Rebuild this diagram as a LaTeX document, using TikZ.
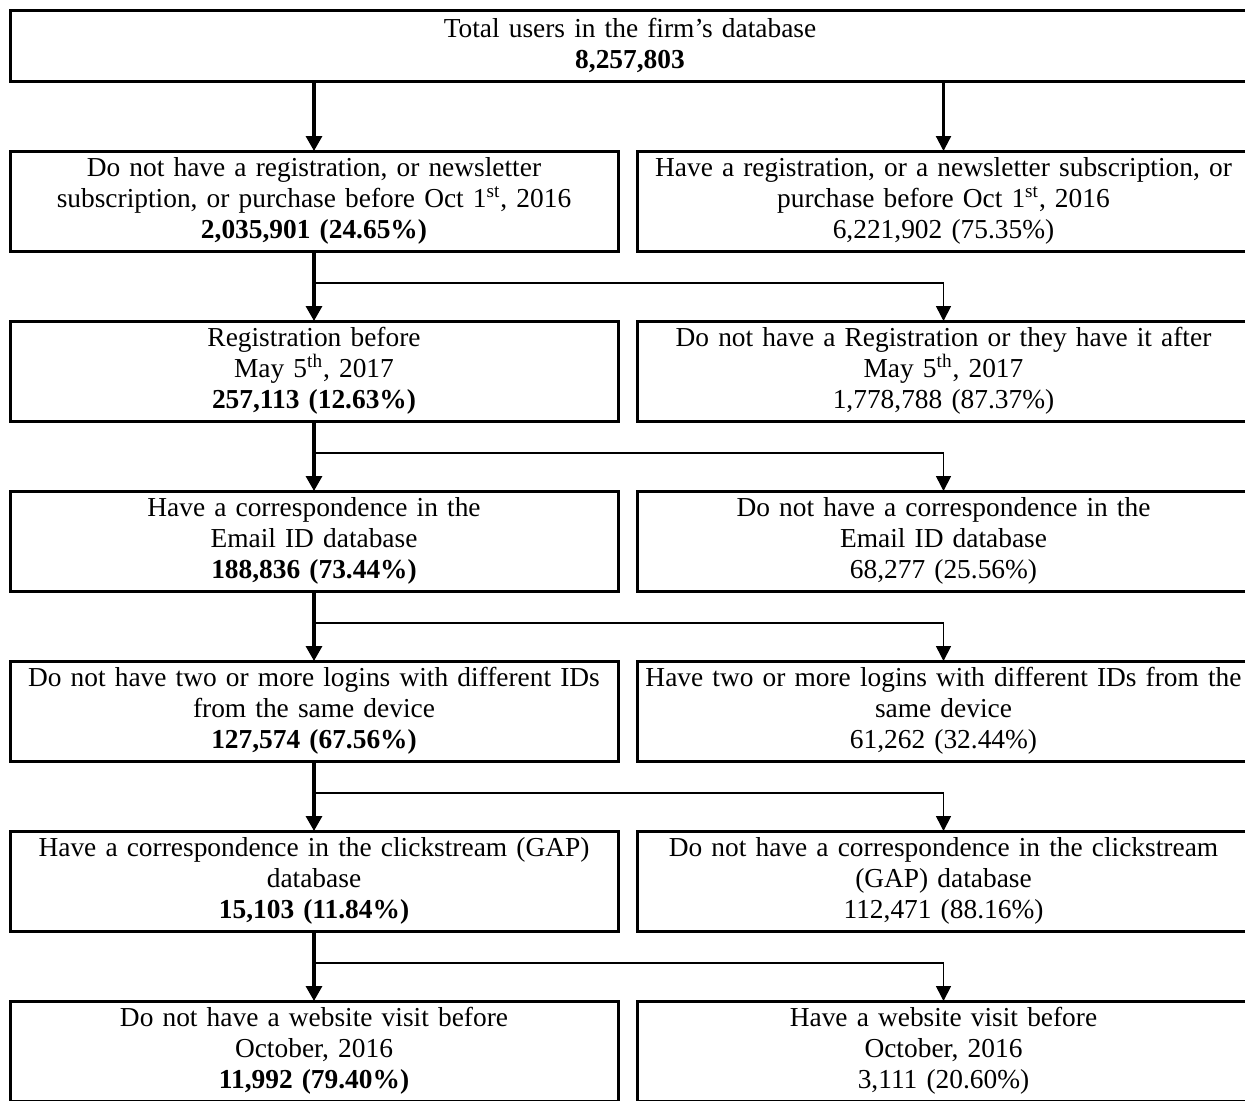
\documentclass[tikz,border=0pt]{standalone}
\usepackage{fontspec}
\setmainfont{Liberation Serif}
\usetikzlibrary{arrows.meta, positioning}

\begin{document}
\begin{tikzpicture}[
    x=0.5pt, y=-0.5pt,
    node distance=35pt and 9.5pt,
    every node/.style={font=\fontsize{13.7pt}{15.6pt}\selectfont},
    lbox/.style={rectangle, draw, line width=1.5pt, outer sep=0pt,
        minimum width=304pt, minimum height=50pt, text width=300pt,
        inner xsep=2pt, inner ysep=2pt, align=center},
    rbox/.style={lbox, minimum width=306.5pt},
    topbox/.style={lbox, minimum width=620pt, minimum height=35.5pt,
        text width=600pt},
    flow/.style={-{Triangle[length=7.5pt, width=8pt]}, line width=1.6pt},
    side/.style={-{Triangle[length=7.5pt, width=7.5pt]}, line width=0.8pt},
]
\useasboundingbox (0,0) rectangle (1245,1100);

\node[topbox] (total) at (630,45.5)
    {Total users in the firm's database\\
     \textbf{8,257,803}};

\node[lbox] (noreg) at (314,201)
    {Do not have a registration, or newsletter\\
     subscription, or purchase before Oct 1\textsuperscript{st}, 2016\\
     \textbf{2,035,901 (24.65\%)}};
\node[rbox, right=of noreg] (hasreg)
    {Have a registration, or a newsletter subscription, or\\
     purchase before Oct 1\textsuperscript{st}, 2016\\
     6,221,902 (75.35\%)};

\node[lbox, below=of noreg] (regmay)
    {Registration before\\
     May 5\textsuperscript{th}, 2017\\
     \textbf{257,113 (12.63\%)}};
\node[rbox, right=of regmay] (noregmay)
    {Do not have a Registration or they have it after\\
     May 5\textsuperscript{th}, 2017\\
     1,778,788 (87.37\%)};

\node[lbox, below=of regmay] (email)
    {Have a correspondence in the\\
     Email ID database\\
     \textbf{188,836 (73.44\%)}};
\node[rbox, right=of email] (noemail)
    {Do not have a correspondence in the\\
     Email ID database\\
     68,277 (25.56\%)};

\node[lbox, below=of email] (single)
    {Do not have two or more logins with different IDs\\
     from the same device\\
     \textbf{127,574 (67.56\%)}};
\node[rbox, right=of single] (multi)
    {Have two or more logins with different IDs from the\\
     same device\\
     61,262 (32.44\%)};

\node[lbox, below=of single] (gap)
    {Have a correspondence in the clickstream (GAP)\\
     database\\
     \textbf{15,103 (11.84\%)}};
\node[rbox, right=of gap] (nogap)
    {Do not have a correspondence in the clickstream\\
     (GAP) database\\
     112,471 (88.16\%)};

\node[lbox, below=of gap] (novisit)
    {Do not have a website visit before\\
     October, 2016\\
     \textbf{11,992 (79.40\%)}};
\node[rbox, right=of novisit] (visit)
    {Have a website visit before\\
     October, 2016\\
     3,111 (20.60\%)};

% Main flow and split branches
\draw[flow] (total.south -| noreg.north) -- (noreg.north);
\draw[side, line width=1.1pt] (total.south -| hasreg.north) -- (hasreg.north);

\draw[flow] (noreg.south) -- (regmay.north);
\draw[side] ([yshift=-16pt]noreg.south) -| (noregmay.north);
\draw[flow] (regmay.south) -- (email.north);
\draw[side] ([yshift=-16pt]regmay.south) -| (noemail.north);
\draw[flow] (email.south) -- (single.north);
\draw[side] ([yshift=-16pt]email.south) -| (multi.north);
\draw[flow] (single.south) -- (gap.north);
\draw[side] ([yshift=-16pt]single.south) -| (nogap.north);
\draw[flow] (gap.south) -- (novisit.north);
\draw[side] ([yshift=-16pt]gap.south) -| (visit.north);

\end{tikzpicture}
\end{document}
